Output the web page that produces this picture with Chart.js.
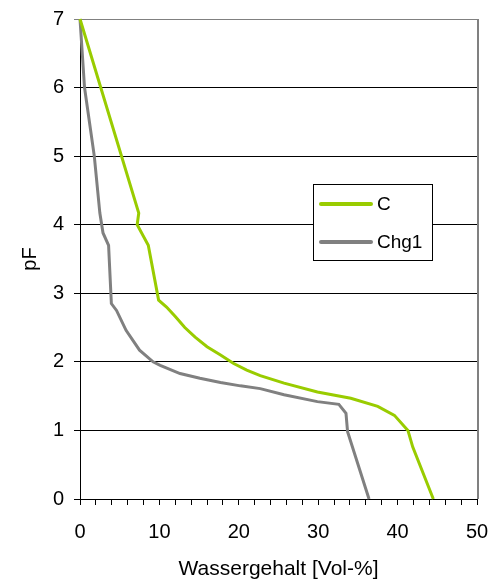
<!DOCTYPE html>
<html lang="de">
<head>
    <meta charset="UTF-8">
    <title>pF - Wassergehalt</title>
    <script src="https://cdn.jsdelivr.net/npm/chart.js@4"></script>
    <style>
        html, body {margin: 0; padding: 0; background: #fff;}
        #wrap {width: 496px; height: 588px; position: relative;}
    </style>
</head>
<body>
    <div id="wrap"><canvas id="pfChart"></canvas></div>

    <script>
        // curve C (green)
        let cLabel = 'C'
        let cX = [0, 7.4, 7.2, 8.6, 9.9, 10.9, 12.0, 13.2, 14.5, 16.0, 17.7, 19.3, 21.0, 22.7, 25.7, 29.9, 34.1, 37.5, 39.6, 41.3, 41.9, 44.5]
        let cY = [7, 4.17, 4.0, 3.7, 2.9, 2.8, 2.66, 2.5, 2.36, 2.22, 2.1, 1.98, 1.88, 1.8, 1.69, 1.56, 1.47, 1.35, 1.22, 1.0, 0.76, 0]

        // curve Chg1 (gray)
        let chgLabel = 'Chg1'
        let chgX = [0, 0.57, 1.8, 2.5, 2.9, 3.6, 3.95, 4.6, 5.8, 7.5, 9.2, 10.1, 12.6, 15.1, 17.7, 20.2, 22.7, 25.7, 29.9, 32.6, 33.5, 33.7, 36.4]
        let chgY = [7, 6.0, 5.0, 4.17, 3.88, 3.7, 2.85, 2.75, 2.46, 2.17, 2.0, 1.95, 1.83, 1.76, 1.7, 1.65, 1.61, 1.52, 1.42, 1.38, 1.25, 0.98, 0]

        // axes
        let xMin = 0, xMax = 50, xStep = 2, xLabelEvery = 10
        let yMin = 0, yMax = 7, yStep = 1
        let xTitle = 'Wassergehalt [Vol-%]'
        let yTitle = 'pF'

        function toPoints(xs, ys) {
            return xs.map((x, i) => ({x: x, y: ys[i]}))
        }

        let fontFam = '"Liberation Sans", Arial, sans-serif'
        Chart.defaults.font.family = fontFam
        Chart.defaults.font.size = 20
        Chart.defaults.color = '#000'

        // gray frame line on the right
        let rightBorder = {
            id: 'rightBorder',
            afterDatasetsDraw(chart) {
                let a = chart.chartArea, ctx = chart.ctx
                ctx.save()
                ctx.strokeStyle = '#808080'
                ctx.lineWidth = 2
                ctx.beginPath()
                ctx.moveTo(a.right + 1, a.top)
                ctx.lineTo(a.right + 1, a.bottom)
                ctx.stroke()
                ctx.restore()
            }
        }

        // boxed legend inside the plot
        let boxLegend = {
            id: 'boxLegend',
            afterDraw(chart) {
                let ctx = chart.ctx
                ctx.save()
                ctx.fillStyle = '#fff'
                ctx.fillRect(313.5, 184.5, 119, 76)
                ctx.strokeStyle = '#000'
                ctx.lineWidth = 1
                ctx.strokeRect(313.5, 184.5, 119, 76)
                let rows = [204, 242]
                chart.data.datasets.forEach((ds, i) => {
                    let y = rows[i]
                    ctx.strokeStyle = ds.borderColor
                    ctx.lineWidth = 4
                    ctx.lineCap = 'round'
                    ctx.beginPath()
                    ctx.moveTo(321, y)
                    ctx.lineTo(371, y)
                    ctx.stroke()
                    ctx.fillStyle = '#000'
                    ctx.font = '19px ' + fontFam
                    ctx.textBaseline = 'middle'
                    ctx.fillText(ds.label, 377, y + 1)
                })
                ctx.restore()
            }
        }

        let ctx = document.getElementById('pfChart').getContext('2d')
        let chart = new Chart(ctx, {
            type: 'line',
            data: {
                datasets: [{
                    label: cLabel,
                    data: toPoints(cX, cY),
                    borderColor: '#99cc00',
                    borderWidth: 3,
                    pointRadius: 0,
                    tension: 0,
                    clip: false
                }, {
                    label: chgLabel,
                    data: toPoints(chgX, chgY),
                    borderColor: '#808080',
                    borderWidth: 3,
                    pointRadius: 0,
                    tension: 0,
                    clip: false
                }]
            },
            options: {
                responsive: true,
                maintainAspectRatio: false,
                animation: false,
                layout: {padding: {top: 19, right: 19, left: 0, bottom: 0}},
                plugins: {
                    legend: {display: false},
                    tooltip: {enabled: false}
                },
                scales: {
                    x: {
                        type: 'linear',
                        min: xMin, max: xMax,
                        afterFit: s => {
                            s.height = 89
                            s.paddingLeft = 0
                            s.paddingRight = 0
                        },
                        ticks: {
                            stepSize: xStep,
                            padding: 15,
                            maxRotation: 0,
                            autoSkip: false,
                            font: {size: 20},
                            callback: v => (v % xLabelEvery === 0 ? v : '')
                        },
                        grid: {
                            drawOnChartArea: false,
                            tickLength: 6,
                            color: '#000'
                        },
                        border: {color: '#000', width: 1},
                        title: {display: true, text: xTitle, font: {size: 21}, padding: {top: 6, bottom: 6}}
                    },
                    y: {
                        min: yMin, max: yMax,
                        afterFit: s => {
                            s.width = 80
                            s.paddingTop = 0
                            s.paddingBottom = 0
                        },
                        ticks: {stepSize: yStep, padding: 10, font: {size: 20}},
                        grid: {
                            tickLength: 6,
                            color: c => (c.tick && c.tick.value === yMax ? '#808080' : '#000')
                        },
                        border: {color: '#000', width: 1},
                        title: {display: true, text: yTitle, font: {size: 20}, padding: {top: 18, bottom: 18}}
                    }
                }
            },
            plugins: [rightBorder, boxLegend]
        })
    </script>
</body>
</html>
